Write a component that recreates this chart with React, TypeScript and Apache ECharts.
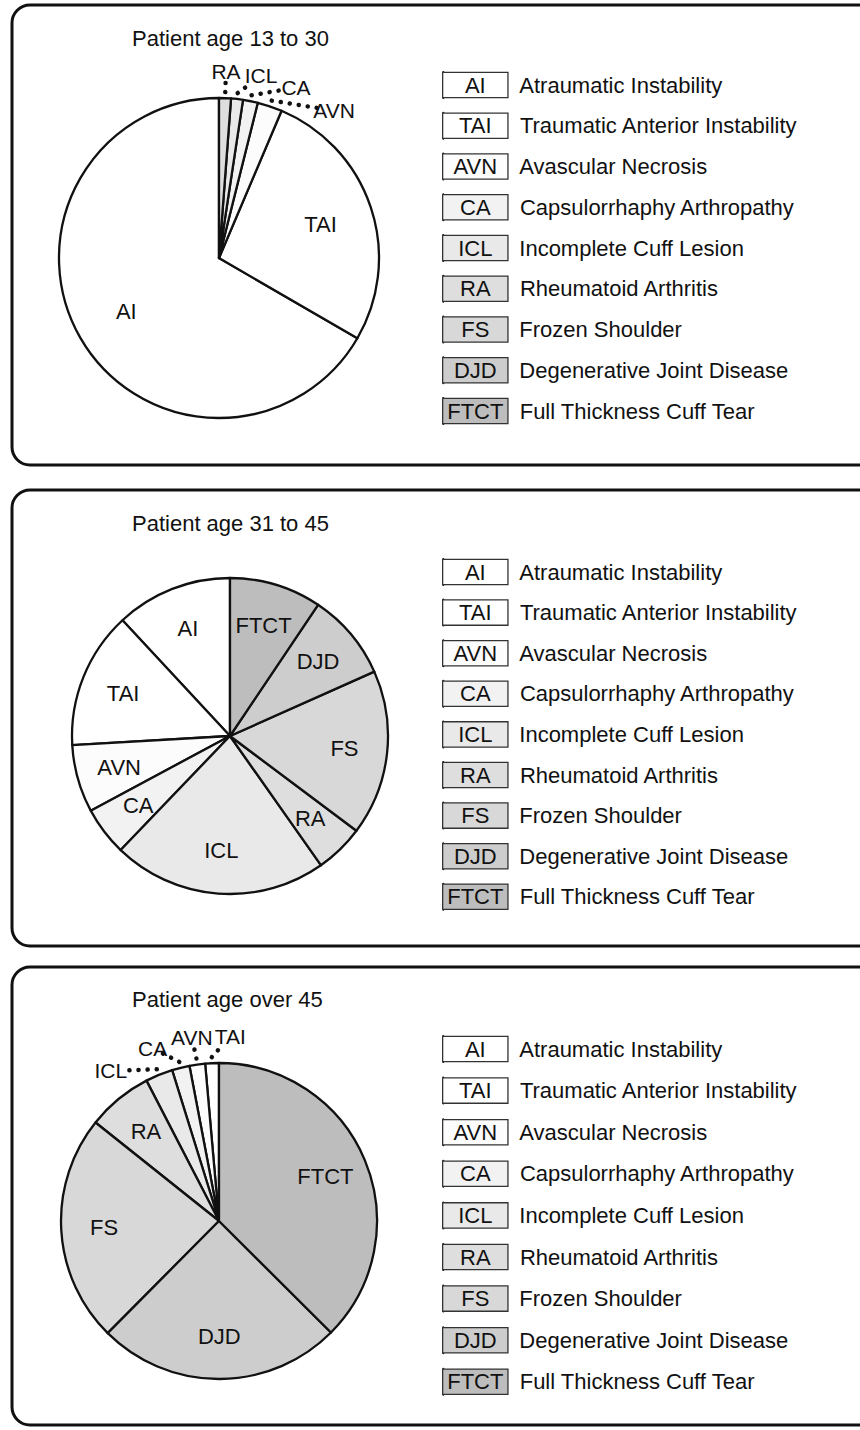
import React, { useEffect, useRef } from "react";
import * as echarts from "echarts";

const categories = ["AI", "TAI", "AVN", "CA", "ICL", "RA", "FS", "DJD", "FTCT"];
const fullNames = [
  "Atraumatic Instability",
  "Traumatic Anterior Instability",
  "Avascular Necrosis",
  "Capsulorrhaphy Arthropathy",
  "Incomplete Cuff Lesion",
  "Rheumatoid Arthritis",
  "Frozen Shoulder",
  "Degenerative Joint Disease",
  "Full Thickness Cuff Tear",
];
const shades = ["#ffffff", "#ffffff", "#fcfcfc", "#f2f2f2", "#e9e9e9", "#dedede", "#d8d8d8", "#cdcdcd", "#bdbdbd"];

const panelTitles = ["Patient age 13 to 30", "Patient age 31 to 45", "Patient age over 45"];
// percent of patients, in category order
const age13to30 = [66.7, 27.0, 2.5, 1.5, 1.2, 1.2, 0, 0, 0];
const age31to45 = [11.9, 14.0, 6.9, 5.0, 21.9, 5.0, 16.9, 8.9, 9.4];
const ageOver45 = [0, 1.4, 1.6, 1.8, 2.8, 6.7, 23.3, 25.0, 37.5];

const FONT = "'Liberation Sans', Arial, Helvetica, sans-serif";

const panels = [
  { top: 5, height: 460, cx: 219, cy: 258, r: 160, titleTop: 22, legendTop: 66, gap: 12.75, labelR: 1.3, values: age13to30 },
  { top: 490, height: 456, cx: 230, cy: 736, r: 158, titleTop: 507, legendTop: 553, gap: 12.6, labelR: 1.42, values: age31to45 },
  { top: 967, height: 458, cx: 219, cy: 1221, r: 158, titleTop: 983, legendTop: 1030, gap: 13.6, labelR: 1.42, values: ageOver45 },
];

export default function App() {
  const ref = useRef<HTMLDivElement>(null);
  useEffect(() => {
    if (!ref.current) return;
    const chart = echarts.init(ref.current, null, { renderer: "svg" });

    const rich: any = {
      gap: { width: 12, lineHeight: 26 },
      t: { fontSize: 22, color: "#111", fontFamily: FONT, lineHeight: 26 },
    };
    categories.forEach((c, i) => {
      rich["b" + i] = {
        width: 64,
        height: 24,
        lineHeight: 24,
        align: "center",
        backgroundColor: shades[i],
        borderColor: "#333",
        borderWidth: 1.3,
        fontSize: 22,
        color: "#111",
        fontFamily: FONT,
      };
    });

    const series: any[] = [];
    panels.forEach((p, pi) => {
      const items = categories
        .map((c, i) => ({ name: c, value: p.values[i], idx: i }))
        .filter((d) => d.value > 0);
      const total = items.reduce((s, d) => s + d.value, 0);
      // rank of each small slice by its distance from 12 o'clock
      let acc = 0;
      const smalls: { di: number; dist: number }[] = [];
      items.forEach((d, di) => {
        const mid = (acc + d.value / 2) / total;
        acc += d.value;
        if (d.value < 4) smalls.push({ di, dist: Math.min(mid, 1 - mid) });
      });
      smalls.sort((a, b) => a.dist - b.dist);
      const rank: Record<number, number> = {};
      smalls.forEach((s, k) => (rank[s.di] = k));

      series.push({
        type: "pie",
        name: "main" + pi,
        center: [p.cx, p.cy],
        radius: p.r,
        clockwise: false,
        startAngle: 90,
        silent: true,
        avoidLabelOverlap: false,
        itemStyle: { borderColor: "#111", borderWidth: 2.3 },
        emphasis: { disabled: true },
        labelLayout: (params: any) => {
          const k = rank[params.dataIndex];
          const pts = params.labelLinePoints;
          if (k === undefined || !pts) return {};
          const [x0, y0] = pts[0];
          const theta = Math.atan2(x0 - p.cx, p.cy - y0);
          const dir = theta >= 0 ? 1 : -1;
          const t = theta + ((dir * k * 6.5 + (1 - dir) * 3) * Math.PI) / 180;
          const R = p.r + 27;
          const lx = p.cx + R * Math.sin(t);
          const ly = p.cy - R * Math.cos(t);
          const sx = p.cx + (p.r + 6) * Math.sin(theta);
          const sy = p.cy - (p.r + 6) * Math.cos(theta);
          const dx = lx - sx, dy = ly - sy;
          const len = Math.sqrt(dx * dx + dy * dy);
          const ex = lx - (dx / len) * 11, ey = ly - (dy / len) * 11;
          return {
            x: lx,
            y: ly,
            align: "center",
            verticalAlign: "middle",
            labelLinePoints: [[sx, sy], [ex, ey]],
          };
        },
        data: items.map((d) => {
          const small = d.value < 4;
          return {
            name: d.name,
            value: d.value,
            itemStyle: { color: shades[d.idx] },
            label: small
              ? { show: true, position: "outside", fontSize: 21, color: "#111", fontFamily: FONT }
              : { show: false },
            labelLine: small
              ? { show: true, length: 10, length2: 0, lineStyle: { color: "#111", width: 4.5, type: [0.1, 9], cap: "round" } }
              : { show: false },
          };
        }),
      });
      series.push({
        type: "pie",
        name: "labels" + pi,
        center: [p.cx, p.cy],
        radius: [0, p.r * p.labelR],
        clockwise: false,
        startAngle: 90,
        silent: true,
        itemStyle: { color: "rgba(0,0,0,0)", borderWidth: 0 },
        emphasis: { disabled: true },
        labelLine: { show: false },
        data: items.map((d) => ({
          name: d.name,
          value: d.value,
          label: d.value < 4
            ? { show: false }
            : { show: true, position: "inside", fontSize: 22, color: "#111", fontFamily: FONT },
        })),
      });
    });

    const option: any = {
      animation: false,
      backgroundColor: "#ffffff",
      title: panels.map((p, i) => ({
        text: panelTitles[i],
        left: 127,
        top: p.titleTop,
        textStyle: { fontSize: 22, fontWeight: "normal", color: "#111", fontFamily: FONT },
      })),
      legend: panels.map((p) => ({
        orient: "vertical",
        left: 437,
        top: p.legendTop,
        itemGap: p.gap,
        icon: "rect",
        itemWidth: 0,
        itemHeight: 26,
        selectedMode: false,
        data: categories,
        formatter: (name: string) => {
          const i = categories.indexOf(name);
          return `{b${i}|${name}}{gap|}{t|${fullNames[i]}}`;
        },
        textStyle: { rich, fontFamily: FONT, padding: [0, 0, 0, -5] },
      })),
      graphic: panels.map((p) => ({
        type: "rect",
        silent: true,
        shape: { x: 12, y: p.top, width: 900, height: p.height, r: 18 },
        style: { fill: "none", stroke: "#111", lineWidth: 3 },
      })),
      series,
    };
    chart.setOption(option);
    return () => chart.dispose();
  }, []);

  return (
    <div
      ref={ref}
      style={{ position: "absolute", left: 0, top: 0, width: 860, height: 1430 }}
    />
  );
}
